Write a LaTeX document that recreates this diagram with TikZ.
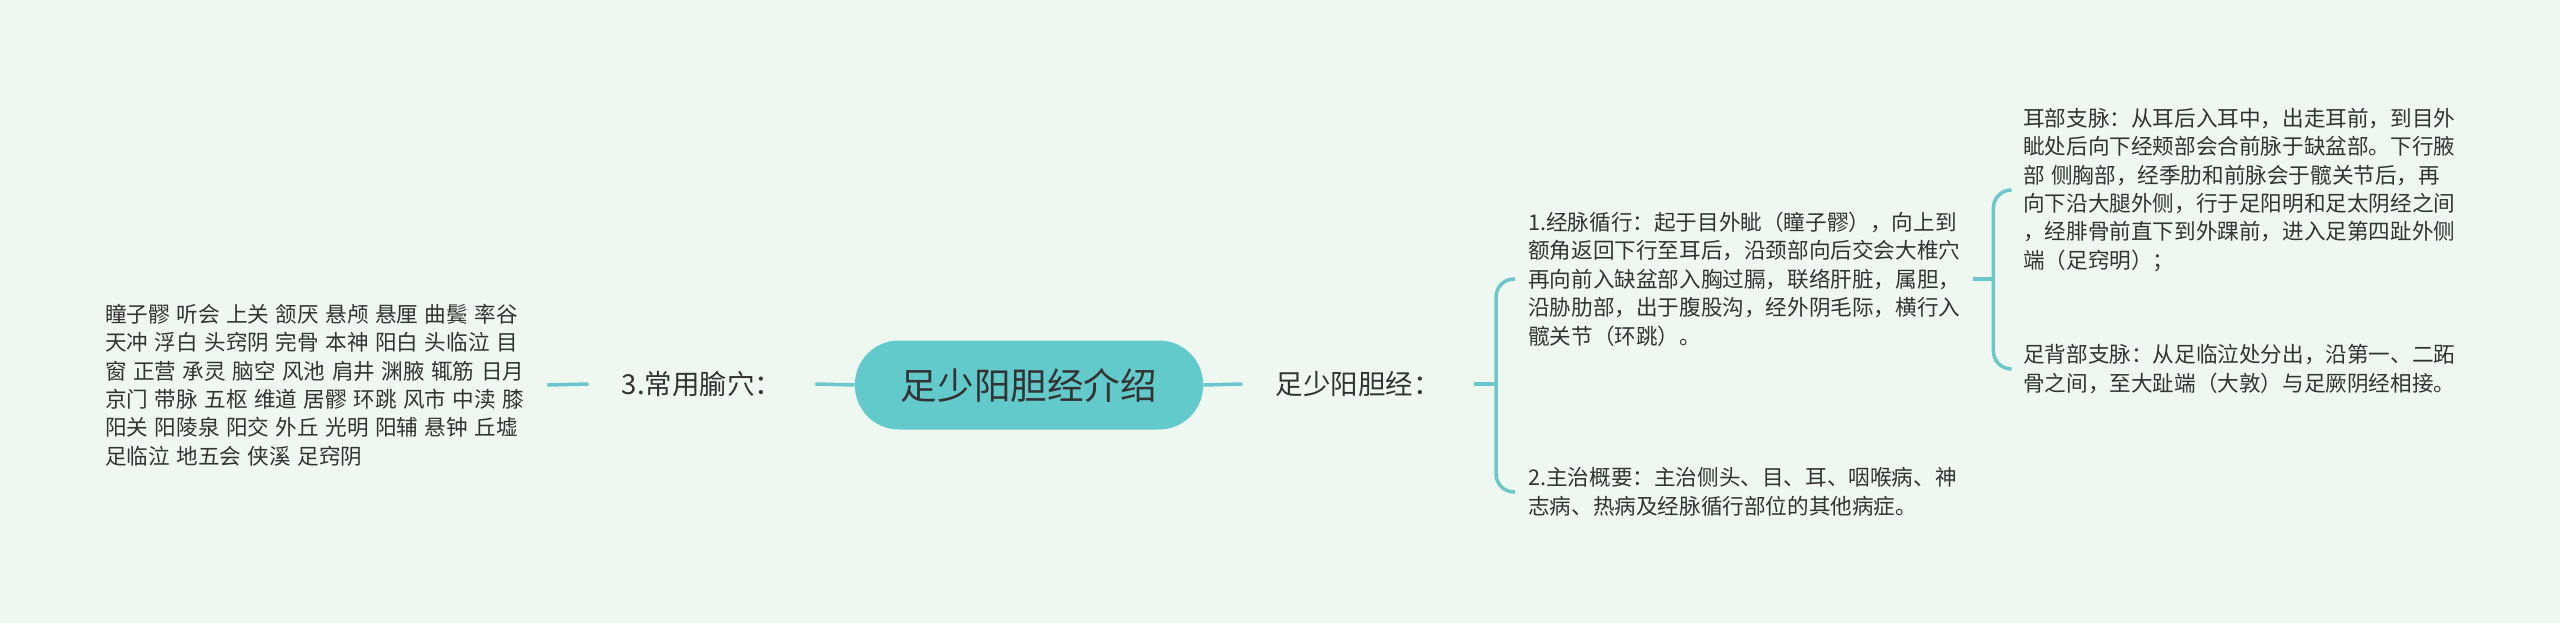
\documentclass[tikz,border=0pt]{standalone}
\usepackage{fontspec}
\setmainfont{Noto Sans CJK SC}
\definecolor{bgmint}{HTML}{EFF8F0}
\definecolor{rootfill}{HTML}{63CACC}
\definecolor{linkcol}{HTML}{6CC6CB}
\definecolor{inkcol}{HTML}{333333}
\begin{document}
\begin{tikzpicture}[x=1pt, y=-1pt,
  link/.style={draw=linkcol, line width=3.5pt},
  topic/.style={text=inkcol, font=\fontsize{27.5}{32}\selectfont, inner xsep=33pt},
  note/.style={text=inkcol, align=left, anchor=west, font=\fontsize{21.6}{28.4}\selectfont\spaceskip.3em, inner xsep=13pt}]
\fill[bgmint] (0,0) rectangle (2560,623);
\node[fill=rootfill, rounded corners=44pt, minimum height=89pt, inner xsep=46pt, text=inkcol, font=\fontsize{36.6}{40}\selectfont] (root) at (1029,385) {足少阳胆经介绍};
\node[topic] (l3) at (702,384) {3.常用腧穴：};
\node[topic] (jing) at (1358,384) {足少阳胆经：};
\node[note, inner xsep=23pt] (xue) at (82,385) {瞳子髎 听会 上关 颔厌 悬颅 悬厘 曲鬓 率谷\\天冲 浮白 头窍阴 完骨 本神 阳白 头临泣 目\\窗 正营 承灵 脑空 风池 肩井 渊腋 辄筋 日月\\京门 带脉 五枢 维道 居髎 环跳 风市 中渎 膝\\阳关 阳陵泉 阳交 外丘 光明 阳辅 悬钟 丘墟\\足临泣 地五会 侠溪 足窍阴};
\node[note] (xun) at (1515,279) {1.经脉循行：起于目外眦（瞳子髎），向上到\\额角返回下行至耳后，沿颈部向后交会大椎穴\\再向前入缺盆部入胸过膈，联络肝脏，属胆，\\沿胁肋部，出于腹股沟，经外阴毛际，横行入\\髋关节（环跳）。};
\node[note] (zhi) at (1515,492) {2.主治概要：主治侧头、目、耳、咽喉病、神\\志病、热病及经脉循行部位的其他病症。};
\node[note] (er) at (2010,190) {耳部支脉：从耳后入耳中，出走耳前，到目外\\眦处后向下经颊部会合前脉于缺盆部。下行腋\\部 侧胸部，经季肋和前脉会于髋关节后，再\\向下沿大腿外侧，行于足阳明和足太阴经之间\\，经腓骨前直下到外踝前，进入足第四趾外侧\\端（足窍明）；};
\node[note] (zu) at (2010,369) {足背部支脉：从足临泣处分出，沿第一、二跖\\骨之间，至大趾端（大敦）与足厥阴经相接。};
\coordinate (fork1) at (1496,384);
\draw[link] (root.west) -- (l3.east);
\draw[link] (l3.west) -- (xue.east);
\draw[link] (root.east) -- (jing.west);
\draw[link] (jing.east) -- (fork1);
\draw[link, rounded corners=18pt] (xun.west) -| (fork1) |- (zhi.west);
\draw[link] (xun.east) -- ++(20,0) coordinate (fork2);
\draw[link, rounded corners=18pt] (er.west) -| (fork2) |- (zu.west);
\end{tikzpicture}
\end{document}
